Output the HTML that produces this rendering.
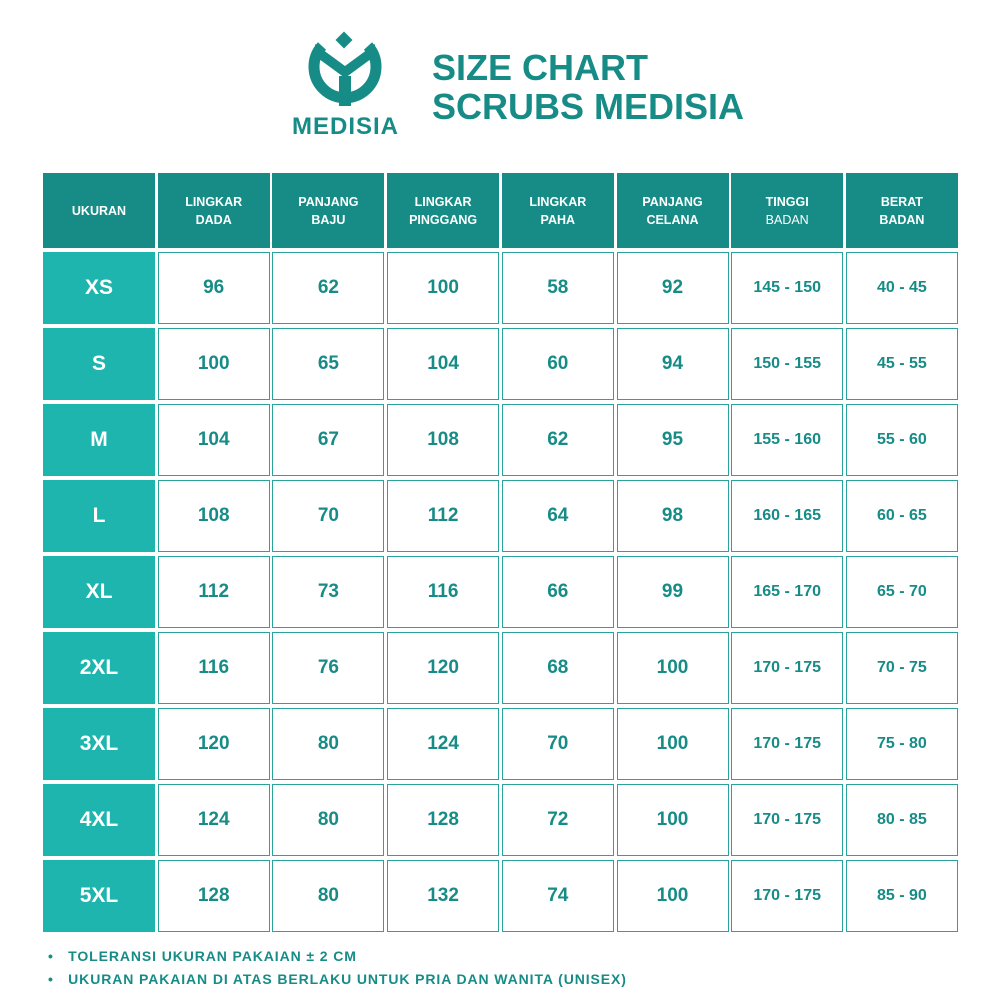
<!DOCTYPE html>
<html><head><meta charset="utf-8"><style>
body{margin:0;width:1000px;height:1000px;background:#fff;font-family:"Liberation Sans",sans-serif;position:relative;overflow:hidden;color:#178c87}
.c{position:absolute;box-sizing:border-box;display:flex;align-items:center;justify-content:center;text-align:center;font-weight:bold}
.h{background:#178c87;color:#fff;font-size:12.5px;line-height:18px}
.s{background:#1db5ae;color:#fff;font-size:21px}
.b{background:#fff;border:1.5px solid #2aa39d;color:#178c87;font-size:19px}
.b.sm{font-size:16px}
.t{position:absolute;font-weight:bold;color:#178c87}
</style></head><body>
<svg style="position:absolute;left:305px;top:30px" width="80" height="80" viewBox="0 0 80 80">
<path d="M17 16 A31 31 0 1 0 63 16" fill="none" stroke="#178c87" stroke-width="11"/>
<path d="M10 14 L40 36 L70 14 L70 26 L40 48 L10 26 Z" fill="#178c87"/>
<rect x="33" y="4" width="12" height="12" transform="rotate(45 39 10)" fill="#178c87"/>
<rect x="34" y="46" width="12" height="30" fill="#178c87"/>
</svg>
<div class="t" style="left:292px;top:113px;font-size:24px;letter-spacing:1px">MEDISIA</div>
<div class="t" style="left:432px;top:48px;font-size:36px;line-height:39px">SIZE CHART<br>SCRUBS MEDISIA</div>
<div id="g"></div>
<div class="t" style="left:48px;top:945px;font-size:14px;line-height:23px;letter-spacing:0.9px">•&nbsp;&nbsp; TOLERANSI UKURAN PAKAIAN ± 2 CM<br>•&nbsp;&nbsp; UKURAN PAKAIAN DI ATAS BERLAKU UNTUK PRIA DAN WANITA (UNISEX)</div>
<script>
var H=["UKURAN","LINGKAR<br>DADA","PANJANG<br>BAJU","LINGKAR<br>PINGGANG","LINGKAR<br>PAHA","PANJANG<br>CELANA","TINGGI<br><span style='font-weight:normal'>BADAN</span>","BERAT<br>BADAN"];
var R=[["XS",96,62,100,58,92,"145 - 150","40 - 45"],["S",100,65,104,60,94,"150 - 155","45 - 55"],["M",104,67,108,62,95,"155 - 160","55 - 60"],["L",108,70,112,64,98,"160 - 165","60 - 65"],["XL",112,73,116,66,99,"165 - 170","65 - 70"],["2XL",116,76,120,68,100,"170 - 175","70 - 75"],["3XL",120,80,124,70,100,"170 - 175","75 - 80"],["4XL",124,80,128,72,100,"170 - 175","80 - 85"],["5XL",128,80,132,74,100,"170 - 175","85 - 90"]];
var s="";
for(var i=0;i<8;i++){var x=43+i*114.7;s+='<div class="c h" style="left:'+x+'px;top:173px;width:112px;height:75px"><div>'+H[i]+'</div></div>';}
for(var r=0;r<9;r++){var y=252+r*76;for(var i=0;i<8;i++){var x=43+i*114.7;var cl=i==0?"s":(i>=6?"b sm":"b");s+='<div class="c '+cl+'" style="left:'+x+'px;top:'+y+'px;width:112px;height:72px"><div>'+R[r][i]+'</div></div>';}}
document.getElementById("g").innerHTML=s;
</script>
</body></html>
